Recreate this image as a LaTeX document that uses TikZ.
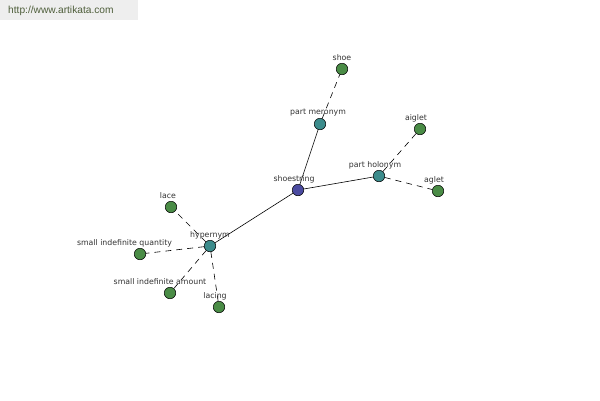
\documentclass[tikz,border=0pt]{standalone}
\usepackage{fontspec}
\setmainfont{Liberation Sans}
\newfontfamily\labfont{DejaVu Sans}
\definecolor{cblue}{HTML}{4B4BA0}
\definecolor{cteal}{HTML}{3C8C8C}
\definecolor{cgreen}{HTML}{4A8C46}
\definecolor{wmbg}{HTML}{EEEEEE}
\definecolor{wmtext}{HTML}{4E5E3A}
\definecolor{lbl}{HTML}{333333}
\begin{document}
\begin{tikzpicture}[x=1pt,y=-1pt,
  dot/.style={circle,draw=black,line width=0.5pt,minimum size=11.5pt,inner sep=0pt},
  root/.style={dot,fill=cblue},
  rel/.style={dot,fill=cteal},
  leaf/.style={dot,fill=cgreen},
  lab/.style={font=\labfont\fontsize{7.8}{8}\selectfont,text=lbl,inner sep=0pt},
  solidedge/.style={draw=black,line width=0.6pt},
  dashedge/.style={draw=black,line width=0.6pt,dash pattern=on 6pt off 5pt}]
\useasboundingbox (0,0) rectangle (600,400);
\fill[white] (0,0) rectangle (600,400);
\node[fill=wmbg,minimum width=138pt,minimum height=20pt,anchor=north west,inner sep=0pt] (wm) at (0,0) {};
\node[font=\fontsize{10.2}{11}\selectfont,text=wmtext,anchor=west,inner sep=0pt] (wmt) at (8,11) {http://www.artikata.com};
% nodes
\node[root] (shoestring) at (298,190) {};
\node[rel] (meronym) at (320,124) {};
\node[leaf] (shoe) at (342,69) {};
\node[rel] (holonym) at (379,176) {};
\node[leaf] (aiglet) at (420,129) {};
\node[leaf] (aglet) at (438,191) {};
\node[rel] (hypernym) at (210,246) {};
\node[leaf] (lace) at (171,207) {};
\node[leaf] (sqi) at (140,254) {};
\node[leaf] (sia) at (170,293) {};
\node[leaf] (lacing) at (219,307) {};
% edges
\draw[solidedge] (shoestring) -- (meronym);
\draw[solidedge] (shoestring) -- (holonym);
\draw[solidedge] (shoestring) -- (hypernym);
\draw[dashedge] (meronym) -- (shoe);
\draw[dashedge] (holonym) -- (aiglet);
\draw[dashedge] (holonym) -- (aglet);
\draw[dashedge] (hypernym) -- (lace);
\draw[dashedge] (hypernym) -- (sqi);
\draw[dashedge] (hypernym) -- (sia);
\draw[dashedge] (hypernym) -- (lacing);
% labels
\node[lab] (lshoestring) at (294,179) {shoestring};
\node[lab] (lmeronym) at (318,113) {part meronym};
\node[lab] (lshoe) at (342,58) {shoe};
\node[lab] (lholonym) at (375,165) {part holonym};
\node[lab] (laiglet) at (416,118) {aiglet};
\node[lab] (laglet) at (434,180) {aglet};
\node[lab] (lhypernym) at (210,235) {hypernym};
\node[lab] (llace) at (168,196) {lace};
\node[lab] (lsqi) at (124.5,243) {small indefinite quantity};
\node[lab] (lsia) at (160,282) {small indefinite amount};
\node[lab] (llacing) at (215,296) {lacing};
\end{tikzpicture}
\end{document}
